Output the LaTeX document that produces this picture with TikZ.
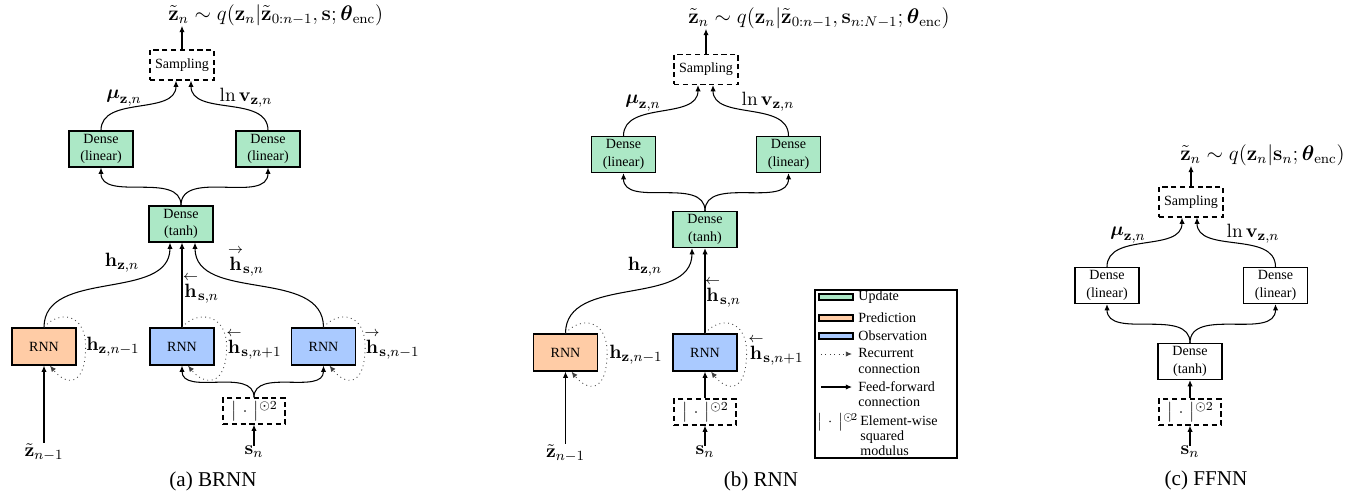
\documentclass[tikz,border=0pt]{standalone}
\usepackage{amsmath}
\usepackage[no-math]{fontspec}
\setmainfont{Liberation Serif}
\usepackage{tikz}
\usetikzlibrary{arrows.meta, calc}
\usepackage{xcolor}
\definecolor{updgreen}{RGB}{172,232,198}
\definecolor{prdorange}{RGB}{255,204,166}
\definecolor{obsblue}{RGB}{170,202,255}
\newcommand{\sqmod}{$\big|\,\cdot\,\big|$\raisebox{3.6pt}{$\scriptstyle\odot 2$}}
\newcommand{\sqmodlg}{$\big|\,\cdot\,\big|$\raisebox{3pt}{$\scriptstyle\odot\!2$}}
\newcommand{\hb}{\overset{\leftarrow}{\mathbf{h}}}
\newcommand{\hf}{\overset{\rightarrow}{\mathbf{h}}}

\begin{document}
\begin{tikzpicture}[x=0.02cm, y=0.02cm,
        blk/.style={draw=black, line width=0.7pt, minimum width=1.28cm, minimum height=0.72cm, inner sep=0pt, align=center, font=\fontsize{8}{9.8}\selectfont},
        upd/.style={blk, fill=updgreen},
        prd/.style={blk, fill=prdorange, minimum height=0.74cm},
        obs/.style={blk, fill=obsblue, minimum height=0.74cm},
        ffbox/.style={blk, fill=white},
        sampbox/.style={blk, dash pattern=on 3pt off 2pt, minimum height=0.6cm},
        sqbox/.style={draw=black, line width=0.7pt, dash pattern=on 3pt off 2pt, minimum width=1.24cm, minimum height=0.52cm, inner sep=0pt, font=\fontsize{9.5}{11}\selectfont},
        ff/.style={-{Latex[length=3.5pt,width=3pt]}, line width=0.6pt},
        rec/.style={-{Latex[length=3.5pt,width=3pt]}, dotted, line width=0.5pt, black!75},
        lbl/.style={font=\fontsize{11}{13}\selectfont, inner sep=0pt},
        post/.style={font=\fontsize{11.8}{14}\selectfont, inner sep=0pt, anchor=west},
        legsw/.style={draw=black, line width=0.6pt, minimum width=0.68cm, minimum height=0.12cm, inner sep=0pt},
        legtxt/.style={anchor=west, inner sep=0pt, align=left, font=\fontsize{8}{8.6}\selectfont},
        subcap/.style={font=\fontsize{12}{14}\selectfont, inner sep=0pt}]
        \useasboundingbox (0,0) rectangle (1360,498);

        \node[post] (postA) at (168,483) {$\tilde{\mathbf{z}}_n\sim q(\mathbf{z}_n|\tilde{\mathbf{z}}_{0:n-1},\mathbf{s};\boldsymbol{\theta}_{\mathrm{enc}})$};
        \node[sampbox] (sampA) at (182,433) {Sampling};
        \node[upd] (linA1) at (101,349) {Dense\\(linear)};
        \node[upd] (linA2) at (268,349) {Dense\\(linear)};
        \node[upd] (tanhA) at (181,274) {Dense\\(tanh)};
        \node[prd] (rnnA1) at (44,151.5) {RNN};
        \node[obs] (rnnA2) at (182,151.5) {RNN};
        \node[obs] (rnnA3) at (323.5,151.5) {RNN};
        \node[sqbox] (sqA) at (254,87) {\sqmod};
        \node[lbl] (zA) at (44,46) {$\tilde{\mathbf{z}}_{n-1}$};
        \node[lbl] (snA) at (254,46) {$\mathbf{s}_n$};
        \node[lbl] (muA) at (124,400) {$\boldsymbol{\mu}_{\mathbf{z},n}$};
        \node[lbl] (lnvA) at (246,400) {$\ln\mathbf{v}_{\mathbf{z},n}$};
        \node[lbl] (hzA) at (122,235) {$\mathbf{h}_{\mathbf{z},n}$};
        \node[lbl] (hsbA) at (201,210) {$\hb_{\mathbf{s},n}$};
        \node[lbl] (hsfA) at (246,237) {$\hf_{\mathbf{s},n}$};
        \node[lbl] (hzA1) at (113,151) {$\mathbf{h}_{\mathbf{z},n-1}$};
        \node[lbl] (hsbA1) at (254,154) {$\hb_{\mathbf{s},n+1}$};
        \node[lbl] (hsfA1) at (392,154) {$\hf_{\mathbf{s},n-1}$};
        \node[subcap] (capA) at (213,17) {(a) BRNN};

        \draw[ff] (sampA.north) -- (sampA.north |- postA.south);
        \draw[ff] (linA1.north) to[out=90,in=-90] ($(sampA.south)+(-6,0)$);
        \draw[ff] (linA2.north) to[out=90,in=-90] ($(sampA.south)+(9,0)$);
        \draw[ff] (tanhA.north) to[out=90,in=-90] (linA1.south);
        \draw[ff] (tanhA.north) to[out=90,in=-90] (linA2.south);
        \draw[ff] (rnnA1.north) to[out=90,in=-90] ($(tanhA.south)+(-11,0)$);
        \draw[ff] (rnnA2.north) -- (rnnA2.north |- tanhA.south);
        \draw[ff] (rnnA3.north) to[out=90,in=-90] ($(tanhA.south)+(14,0)$);
        \draw[ff] (sqA.north) to[out=90,in=-90] (rnnA2.south);
        \draw[ff] (sqA.north) to[out=90,in=-90] (rnnA3.south);
        \draw[ff] (snA.north) -- (sqA.south);
        \draw[ff] (zA.north) -- (rnnA1.south);
        \draw[rec] (rnnA1.north) .. controls ($(rnnA1.north)+(14,17)$) and ($(rnnA1.north east)+(9,15)$) .. ($(rnnA1.east)+(9,0)$)
            .. controls ($(rnnA1.south east)+(9,-22)$) and ($(rnnA1.south)+(22,-20)$) .. ($(rnnA1.south)+(6,0)$);
        \draw[rec] (rnnA2.north) .. controls ($(rnnA2.north)+(14,17)$) and ($(rnnA2.north east)+(12,15)$) .. ($(rnnA2.east)+(12,0)$)
            .. controls ($(rnnA2.south east)+(12,-22)$) and ($(rnnA2.south)+(22,-20)$) .. ($(rnnA2.south)+(6,0)$);
        \draw[rec] (rnnA3.north) .. controls ($(rnnA3.north)+(14,17)$) and ($(rnnA3.north east)+(9,15)$) .. ($(rnnA3.east)+(9,0)$)
            .. controls ($(rnnA3.south east)+(9,-22)$) and ($(rnnA3.south)+(22,-20)$) .. ($(rnnA3.south)+(6,0)$);

        \node[post] (postB) at (688,480) {$\tilde{\mathbf{z}}_n\sim q(\mathbf{z}_n|\tilde{\mathbf{z}}_{0:n-1},\mathbf{s}_{n:N-1};\boldsymbol{\theta}_{\mathrm{enc}})$};
        \node[sampbox] (sampB) at (706,428.5) {Sampling};
        \node[upd] (linB1) at (623.5,343.5) {Dense\\(linear)};
        \node[upd] (linB2) at (788.5,343.5) {Dense\\(linear)};
        \node[upd] (tanhB) at (705,268.5) {Dense\\(tanh)};
        \node[prd] (rnnB1) at (565.5,145.5) {RNN};
        \node[obs] (rnnB2) at (705,145.5) {RNN};
        \node[sqbox] (sqB) at (705,86) {\sqmod};
        \node[lbl] (zB) at (565.5,45) {$\tilde{\mathbf{z}}_{n-1}$};
        \node[lbl] (snB) at (705,46) {$\mathbf{s}_n$};
        \node[lbl] (muB) at (643,395) {$\boldsymbol{\mu}_{\mathbf{z},n}$};
        \node[lbl] (lnvB) at (768,396) {$\ln\mathbf{v}_{\mathbf{z},n}$};
        \node[lbl] (hzB) at (645,231) {$\mathbf{h}_{\mathbf{z},n}$};
        \node[lbl] (hsbB) at (723,206) {$\hb_{\mathbf{s},n}$};
        \node[lbl] (hzB1) at (636,143) {$\mathbf{h}_{\mathbf{z},n-1}$};
        \node[lbl] (hsbB1) at (776,148) {$\hb_{\mathbf{s},n+1}$};
        \node[subcap] (capB) at (761,17) {(b) RNN};

        \draw[ff] (sampB.north) -- (sampB.north |- postB.south);
        \draw[ff] (linB1.north) to[out=90,in=-90] ($(sampB.south)+(-8,0)$);
        \draw[ff] (linB2.north) to[out=90,in=-90] ($(sampB.south)+(7,0)$);
        \draw[ff] (tanhB.north) to[out=90,in=-90] (linB1.south);
        \draw[ff] (tanhB.north) to[out=90,in=-90] (linB2.south);
        \draw[ff] (rnnB1.north) to[out=90,in=-90] ($(tanhB.south)+(-13,0)$);
        \draw[ff] (rnnB2.north) -- (rnnB2.north |- tanhB.south);
        \draw[ff] (sqB.north) -- (rnnB2.south);
        \draw[ff] (snB.north) -- (sqB.south);
        \draw[ff] (zB.north) -- (rnnB1.south);
        \draw[rec] (rnnB1.north) .. controls ($(rnnB1.north)+(14,17)$) and ($(rnnB1.north east)+(9,15)$) .. ($(rnnB1.east)+(9,0)$)
            .. controls ($(rnnB1.south east)+(9,-22)$) and ($(rnnB1.south)+(22,-20)$) .. ($(rnnB1.south)+(6,0)$);
        \draw[rec] (rnnB2.north) .. controls ($(rnnB2.north)+(14,17)$) and ($(rnnB2.north east)+(9,15)$) .. ($(rnnB2.east)+(9,0)$)
            .. controls ($(rnnB2.south east)+(9,-22)$) and ($(rnnB2.south)+(22,-20)$) .. ($(rnnB2.south)+(6,0)$);

        \draw[line width=0.6pt] (815,40) rectangle (957,208);
        \node[legsw, fill=updgreen] (swU) at (836,201) {};
        \node[legtxt] (txU) at (858,201) {Update};
        \node[legsw, fill=prdorange] (swP) at (836,180) {};
        \node[legtxt] (txP) at (858,180) {Prediction};
        \node[legsw, fill=obsblue] (swO) at (836,162) {};
        \node[legtxt] (txO) at (858,162) {Observation};
        \coordinate (recS) at (821,144);
        \coordinate (recE) at (852,144);
        \draw[rec] (recS) -- (recE);
        \node[legtxt] (txR) at (858,137) {Recurrent\\connection};
        \coordinate (ffS) at (821,111);
        \coordinate (ffE) at (852,111);
        \draw[ff] (ffS) -- (ffE);
        \node[legtxt] (txF) at (858,103.5) {Feed-forward\\connection};
        \node[font=\fontsize{8}{10}\selectfont, inner sep=0pt, anchor=west] (symE) at (817,76) {\sqmodlg};
        \node[legtxt] (txE) at (860,62) {Element-wise\\squared\\modulus};

        \node[post] (postC) at (1180,343) {$\tilde{\mathbf{z}}_n\sim q(\mathbf{z}_n|\mathbf{s}_n;\boldsymbol{\theta}_{\mathrm{enc}})$};
        \node[sampbox] (sampC) at (1191,296) {Sampling};
        \node[ffbox] (linC1) at (1107,212.5) {Dense\\(linear)};
        \node[ffbox] (linC2) at (1275.5,212.5) {Dense\\(linear)};
        \node[ffbox] (tanhC) at (1190,136.5) {Dense\\(tanh)};
        \node[sqbox] (sqC) at (1190,86) {\sqmod};
        \node[lbl] (snC) at (1190,46) {$\mathbf{s}_n$};
        \node[lbl] (muC) at (1128,263) {$\boldsymbol{\mu}_{\mathbf{z},n}$};
        \node[lbl] (lnvC) at (1253,264) {$\ln\mathbf{v}_{\mathbf{z},n}$};
        \node[subcap] (capC) at (1206,18) {(c) FFNN};

        \draw[ff] (sampC.north) -- (sampC.north |- postC.south);
        \draw[ff] (linC1.north) to[out=90,in=-90] ($(sampC.south)+(-9,0)$);
        \draw[ff] (linC2.north) to[out=90,in=-90] ($(sampC.south)+(6,0)$);
        \draw[ff] (tanhC.north) to[out=90,in=-90] (linC1.south);
        \draw[ff] (tanhC.north) to[out=90,in=-90] (linC2.south);
        \draw[ff] (sqC.north) -- (tanhC.south);
        \draw[ff] (snC.north) -- (sqC.south);
\end{tikzpicture}
\end{document}
